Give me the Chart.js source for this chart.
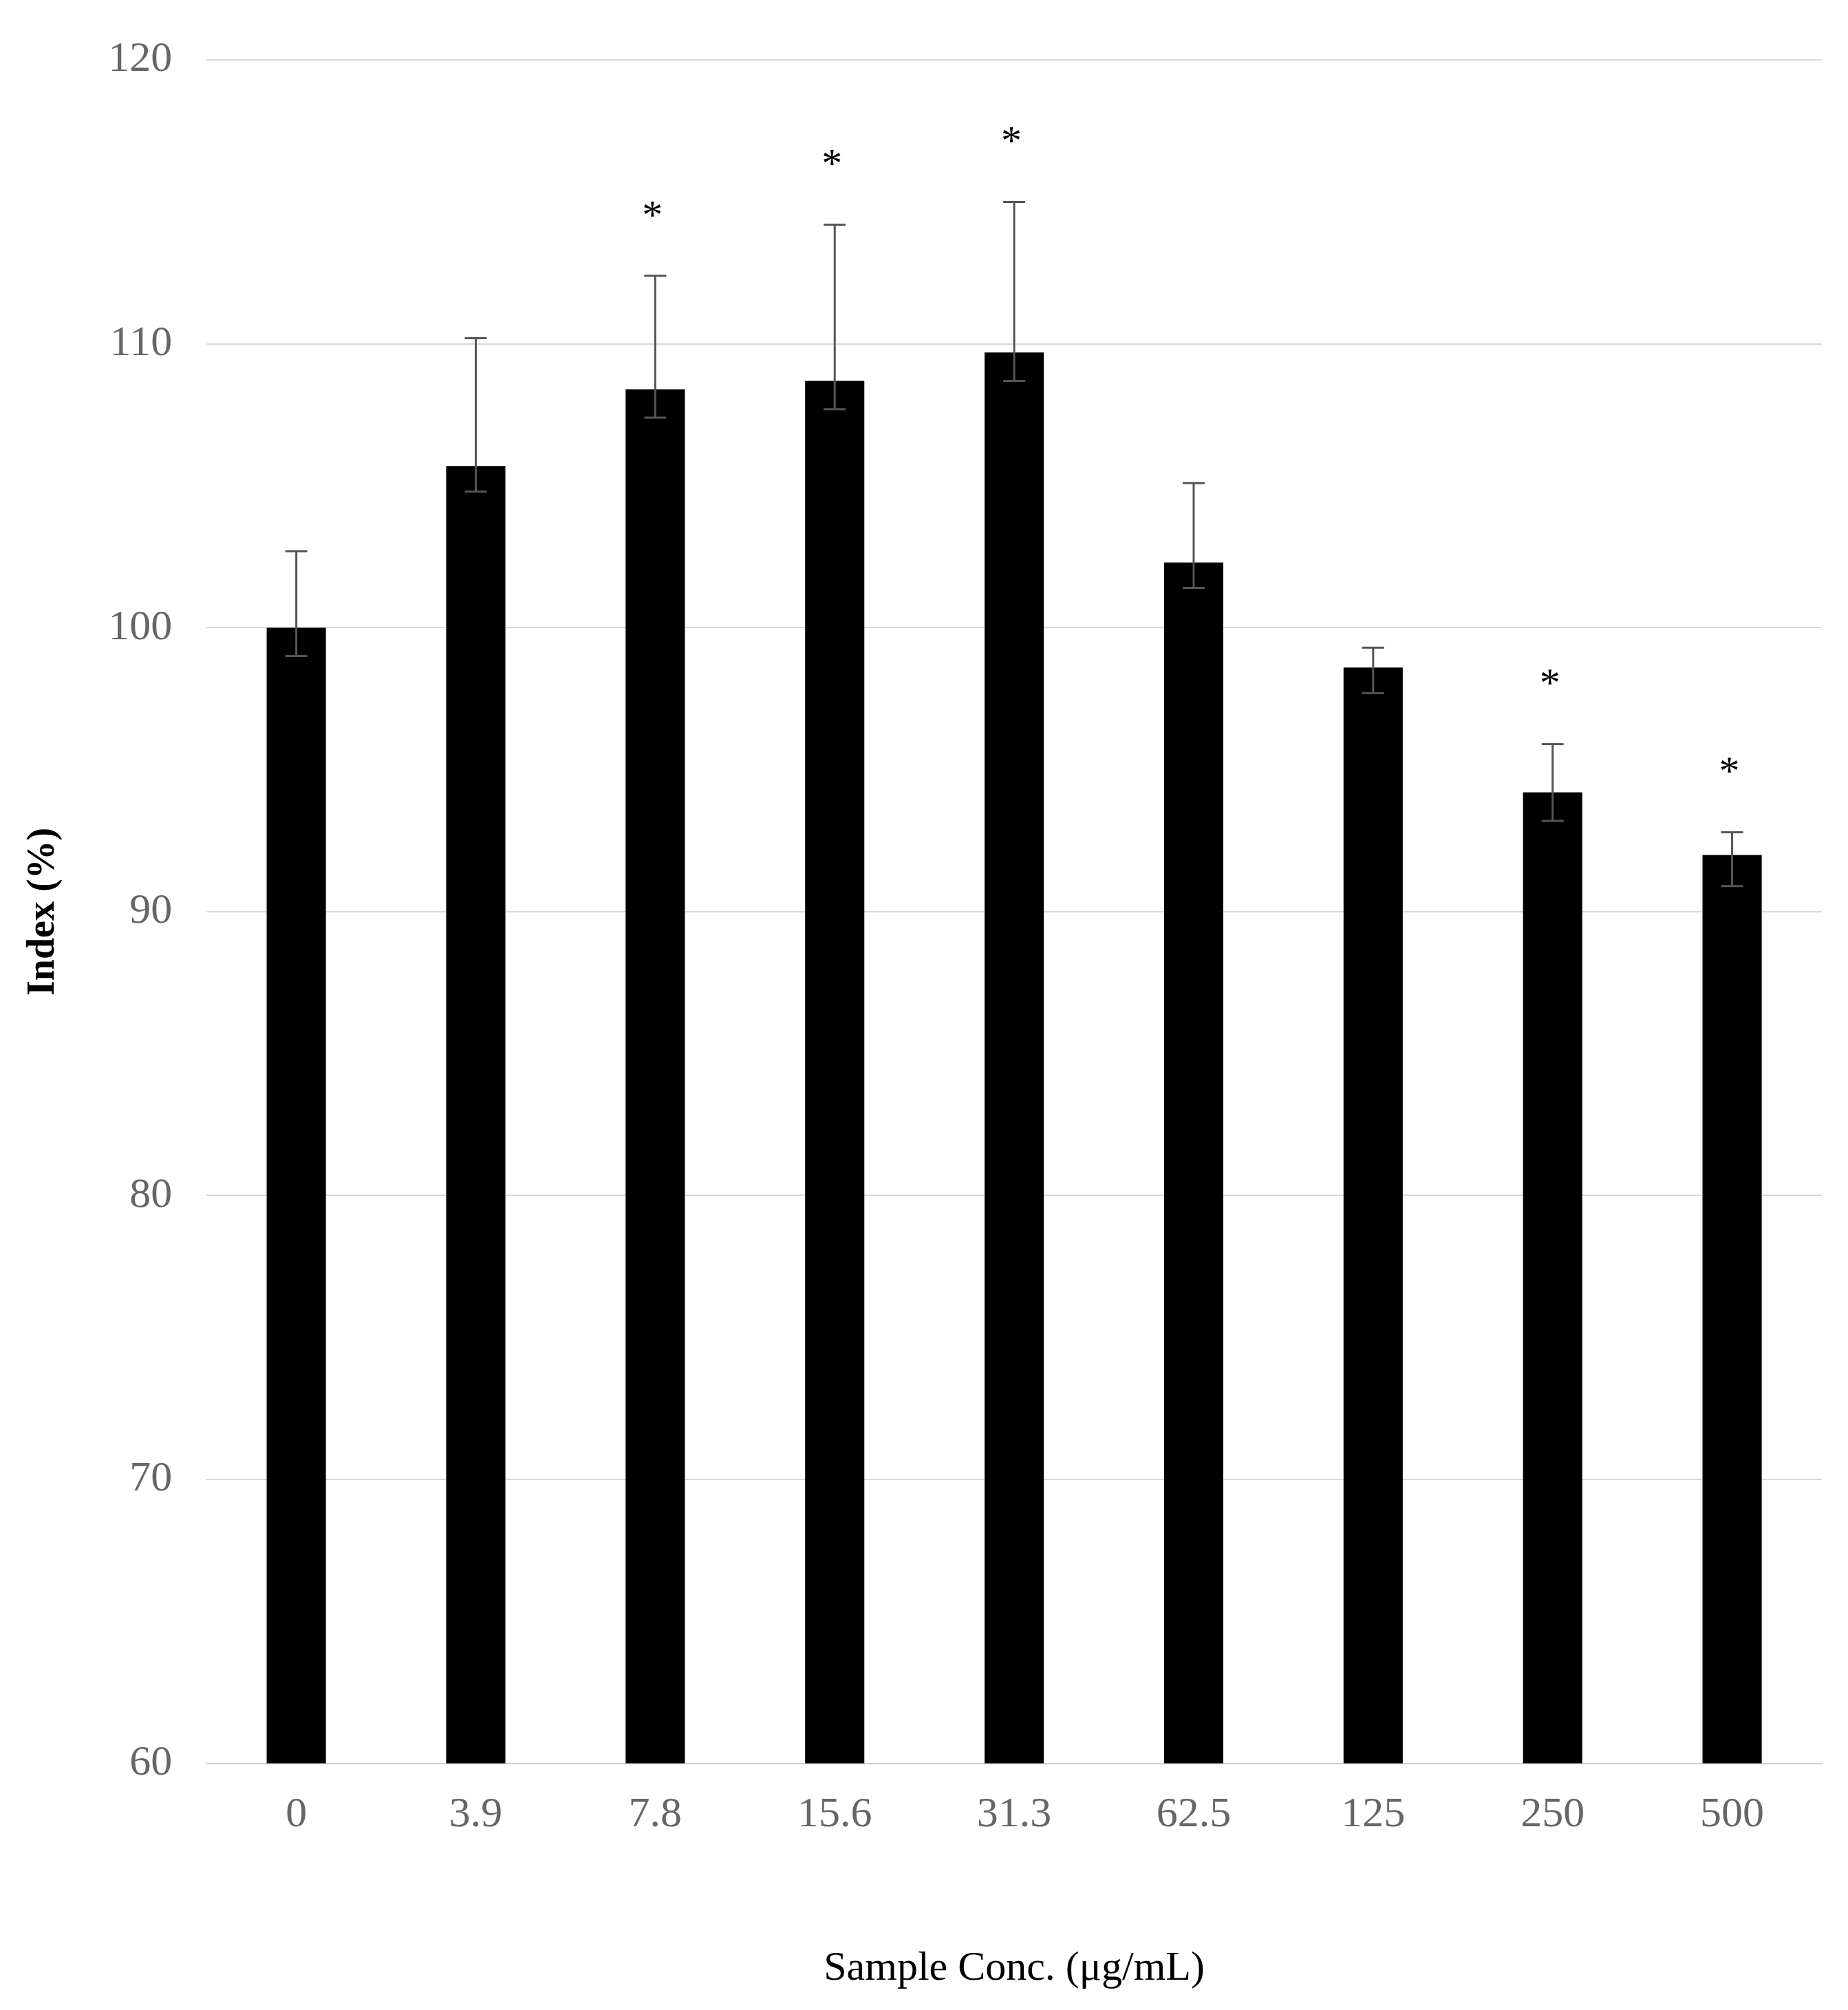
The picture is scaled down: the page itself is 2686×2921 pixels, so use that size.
<!DOCTYPE html>
<html>
<head>
<meta charset="utf-8">
<script src="https://cdn.jsdelivr.net/npm/chart.js@4"></script>
<style>
  html, body { margin: 0; padding: 0; background: #fff; }
  #wrap { width: 2686px; height: 2921px; }
</style>
</head>
<body>
<div id="wrap"><canvas id="chart"></canvas></div>
<script>
// ---------- Data ----------
const categories = ["0", "3.9", "7.8", "15.6", "31.3", "62.5", "125", "250", "500"];
const indexValues = [100, 105.7, 108.4, 108.7, 109.7, 102.3, 98.6, 94.2, 92.0];
const errUpper = [102.7, 110.2, 112.4, 114.2, 115.0, 105.1, 99.3, 95.9, 92.8];
const errLower = [99.0, 104.8, 107.4, 107.7, 108.7, 101.4, 97.7, 93.2, 90.9];
const significant = [false, false, true, true, true, false, false, true, true];

const serif = "'Liberation Serif', 'DejaVu Serif', serif";

// ---------- Error bars + asterisks ----------
const errorBarPlugin = {
  id: "errorBars",
  afterDatasetsDraw(chart) {
    const ctx = chart.ctx;
    const x = chart.scales.x, y = chart.scales.y;
    ctx.save();
    ctx.strokeStyle = "#555";
    ctx.lineWidth = 3;
    categories.forEach((c, i) => {
      const px = x.getPixelForValue(i);
      const yt = y.getPixelForValue(errUpper[i]);
      const yb = y.getPixelForValue(errLower[i]);
      const cap = 16;
      ctx.beginPath();
      ctx.moveTo(px, yt); ctx.lineTo(px, yb);
      ctx.moveTo(px - cap, yt); ctx.lineTo(px + cap, yt);
      ctx.moveTo(px - cap, yb); ctx.lineTo(px + cap, yb);
      ctx.stroke();
      if (significant[i]) {
        ctx.fillStyle = "#000";
        ctx.font = "60px " + serif;
        ctx.textAlign = "center";
        ctx.textBaseline = "bottom";
        ctx.fillText("*", px - 4, yt - 55);
      }
    });
    ctx.restore();
  }
};

// ---------- Chart ----------
new Chart(document.getElementById("chart"), {
  type: "bar",
  data: {
    labels: categories,
    datasets: [{
      data: indexValues,
      backgroundColor: "#000",
      borderWidth: 0,
      categoryPercentage: 1,
      barPercentage: 0.33
    }]
  },
  options: {
    responsive: true,
    maintainAspectRatio: false,
    animation: false,
    layout: { padding: { top: 30, right: 38, left: 20, bottom: 20 } },
    plugins: { legend: { display: false }, tooltip: { enabled: false } },
    scales: {
      y: {
        min: 60, max: 120,
        ticks: { stepSize: 10, color: "#666", font: { family: serif, size: 62 }, padding: 50 },
        grid: { color: "#d9d9d9", lineWidth: 2, drawTicks: false },
        border: { display: false },
        title: { display: true, text: "Index (%)", color: "#000",
                 font: { family: serif, size: 56, weight: "bold" }, padding: 10 }
      },
      x: {
        ticks: { color: "#666", font: { family: serif, size: 62 }, padding: 30 },
        grid: { display: false },
        border: { color: "#d0d0d0", width: 2 },
        title: { display: true, text: "Sample Conc. (μg/mL)", color: "#000",
                 font: { family: serif, size: 60 }, padding: { top: 120 } }
      }
    }
  },
  plugins: [errorBarPlugin]
});
</script>
</body>
</html>
